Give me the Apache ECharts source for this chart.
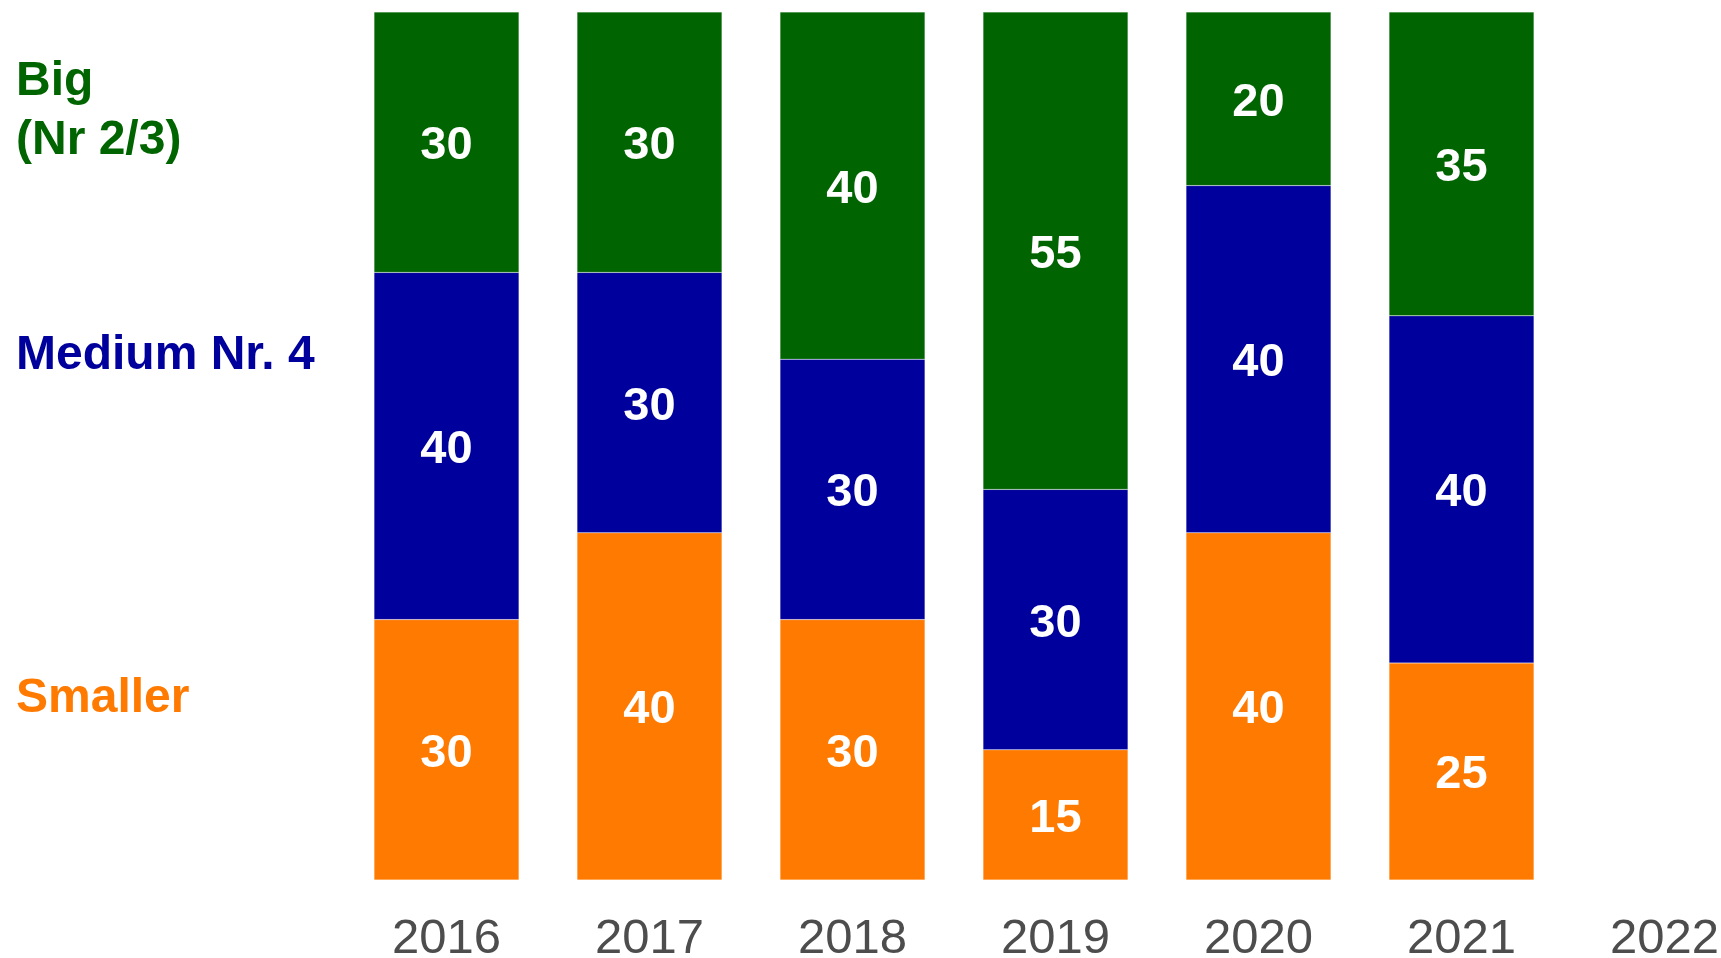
<!DOCTYPE html>
<html>
<head>
<meta charset="utf-8">
<script src="https://cdn.jsdelivr.net/npm/echarts@6/dist/echarts.min.js"></script>
<style>
  html, body { margin: 0; padding: 0; background: #fff; }
  #chart { width: 1721px; height: 958px; }
</style>
</head>
<body>
<div id="chart"></div>
<script>
// years on the x axis (2022 is an empty slot)
const years = ['2016', '2017', '2018', '2019', '2020', '2021', '2022'];
// stacked shares, bottom to top
const smaller = [30, 40, 30, 15, 40, 25, null];
const medium = [40, 30, 30, 30, 40, 40, null];
const big = [30, 30, 40, 55, 20, 35, null];

const seriesNames = ['Smaller', 'Medium Nr. 4', 'Big'];
const seriesColors = ['#FF7A00', '#00009C', '#006400'];
// left-hand labels (text lines, y centre)
const sideLabels = [
  { text: 'Big', y: 84, color: '#006400' },
  { text: '(Nr 2/3)', y: 143, color: '#006400' },
  { text: 'Medium Nr. 4', y: 358, color: '#00009C' },
  { text: 'Smaller', y: 701, color: '#FF7A00' }
];

const chart = echarts.init(document.getElementById('chart'));

function barSeries(name, values, color) {
  return {
    name: name,
    type: 'bar',
    stack: 'total',
    data: values,
    barWidth: 145,
    itemStyle: { color: color, borderColor: 'rgba(255,255,255,0.35)', borderWidth: 0.5 },
    label: {
      show: true,
      position: 'inside',
      offset: [0, 4],
      color: '#fff',
      fontFamily: 'Liberation Sans, Arial, sans-serif',
      fontWeight: 'bold',
      fontSize: 47
    },
    emphasis: { disabled: true },
    animation: false
  };
}

const option = {
  backgroundColor: '#fff',
  animation: false,
  grid: { left: 345, top: 12, width: 1421, height: 868, outerBoundsMode: 'none', containLabel: false },
  xAxis: {
    type: 'category',
    data: years,
    axisLine: { show: false },
    axisTick: { show: false },
    axisLabel: {
      color: '#4D4D4D',
      fontFamily: 'Liberation Sans, Arial, sans-serif',
      fontSize: 49,
      margin: 35,
      interval: 0
    }
  },
  yAxis: {
    type: 'value',
    min: 0,
    max: 100,
    show: false,
    splitLine: { show: false }
  },
  graphic: sideLabels.map(function (l) {
    return {
      type: 'text',
      left: 16,
      top: l.y - 26,
      style: {
        text: l.text,
        fill: l.color,
        font: 'bold 48px "Liberation Sans", Arial, sans-serif',
        textVerticalAlign: 'top'
      }
    };
  }),
  series: [
    barSeries(seriesNames[0], smaller, seriesColors[0]),
    barSeries(seriesNames[1], medium, seriesColors[1]),
    barSeries(seriesNames[2], big, seriesColors[2])
  ]
};

chart.setOption(option);
</script>
</body>
</html>
